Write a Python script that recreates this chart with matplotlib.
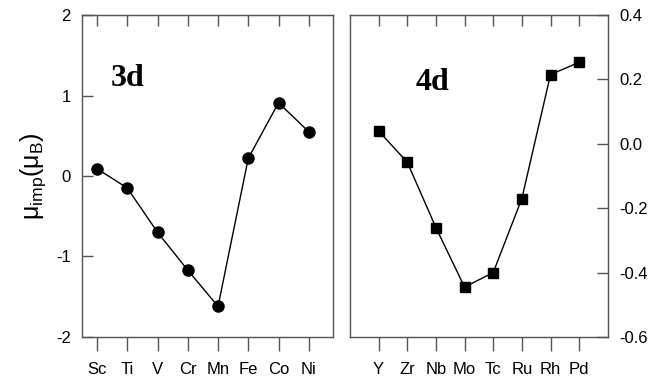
import numpy as np
import matplotlib.pyplot as plt

# data
el_3d = ['Sc', 'Ti', 'V', 'Cr', 'Mn', 'Fe', 'Co', 'Ni']
mu_3d = [0.09, -0.15, -0.70, -1.17, -1.62, 0.22, 0.91, 0.55]
el_4d = ['Y', 'Zr', 'Nb', 'Mo', 'Tc', 'Ru', 'Rh', 'Pd']
mu_4d = [0.04, -0.057, -0.26, -0.445, -0.40, -0.17, 0.215, 0.253]

plt.rcParams['font.family'] = ['Liberation Sans', 'DejaVu Sans']
plt.rcParams['axes.unicode_minus'] = False
frame_col = '#555555'

fig = plt.figure(figsize=(6.48, 3.81), dpi=100)
ax1 = fig.add_axes([0.1265, 0.1155, 0.3873, 0.8451])
ax2 = fig.add_axes([0.540, 0.1155, 0.398, 0.8451])

x3 = np.arange(1, len(el_3d) + 1)
x4 = np.arange(1, len(el_4d) + 1)

ax1.plot(x3, mu_3d, '-o', color='black', lw=1, ms=8)
ax2.plot(x4, mu_4d, '-s', color='black', lw=1, ms=7)

ax1.set_xlim(0.5, 8.8)
ax1.set_ylim(-2, 2)
ax1.set_yticks([-2, -1, 0, 1, 2])
ax2.set_xlim(0, 9)
ax2.set_ylim(-0.6, 0.4)
ax2.set_yticks([-0.6, -0.4, -0.2, 0.0, 0.2, 0.4])
ax2.set_yticklabels(['%.1f' % v for v in [-0.6, -0.4, -0.2, 0.0, 0.2, 0.4]])
ax2.yaxis.tick_right()

for ax, x, labs in [(ax1, x3, el_3d), (ax2, x4, el_4d)]:
    ax.set_xticks(x)
    ax.set_xticklabels(labs)
    for s in ax.spines.values():
        s.set_color(frame_col)
        s.set_linewidth(1)
    # bottom ticks outward, top ticks inward
    ax.tick_params(axis='x', direction='out', length=10, width=1, color=frame_col,
                   pad=8, labelsize=12)
    ax.tick_params(axis='y', direction='in', length=8, width=1, color=frame_col,
                   labelsize=12, pad=8)
    top = ax.secondary_xaxis('top')
    top.set_xticks(x)
    top.tick_params(direction='in', length=8, width=1, color=frame_col,
                    labeltop=False)
    top.spines['top'].set_color(frame_col)

ax1.set_ylabel(r'$\mathregular{\mu_{imp}(\mu_B)}$', fontsize=18, labelpad=6)

ax1.text(128, 381 - 79, '3d', transform=None, fontsize=23, fontweight='bold',
         family='Liberation Serif', ha='center', va='center')
ax2.text(432, 381 - 82, '4d', transform=None, fontsize=23, fontweight='bold',
         family='Liberation Serif', ha='center', va='center')

fig.savefig('out.png', dpi=100)
